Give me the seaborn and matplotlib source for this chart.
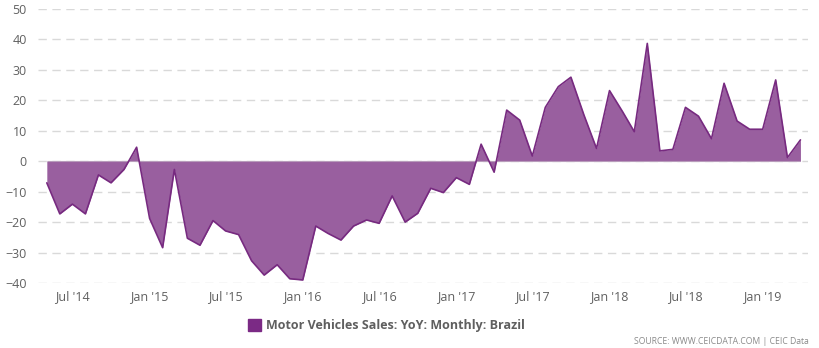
import matplotlib
matplotlib.use("Agg")
import matplotlib.pyplot as plt
import seaborn as sns
import pandas as pd

start_month = "2014-05-01"
values = [-7.1, -17.3, -14.1, -17.3, -4.5, -7.1, -2.7, 4.6,
          -18.8, -28.4, -2.7, -25.3, -27.6, -19.5, -22.9, -24.1, -32.7, -37.4, -34.0, -38.6,
          -39.0, -21.3, -23.7, -25.9, -21.3, -19.3, -20.4, -11.4, -20.0, -17.1, -8.9, -10.3,
          -5.4, -7.6, 5.6, -3.6, 16.8, 13.5, 1.7, 17.7, 24.5, 27.6, 15.2, 4.2,
          23.2, 16.3, 9.7, 38.7, 3.4, 3.9, 17.7, 14.8, 7.4, 25.6, 13.2, 10.5,
          10.5, 26.7, 1.2, 7.0]
tick_dates = ["2014-07-01", "2015-01-01", "2015-07-01", "2016-01-01", "2016-07-01",
              "2017-01-01", "2017-07-01", "2018-01-01", "2018-07-01", "2019-01-01"]
tick_labels = ["Jul '14", "Jan '15", "Jul '15", "Jan '16", "Jul '16",
               "Jan '17", "Jul '17", "Jan '18", "Jul '18", "Jan '19"]
y_ticks = [-40, -30, -20, -10, 0, 10, 20, 30, 40, 50]
series_name = "Motor Vehicles Sales: YoY: Monthly: Brazil"

dates = pd.date_range(start_month, periods=len(values), freq="MS")
df = pd.DataFrame({"date": dates, "value": values})

sns.set_style("white")
plt.rcParams["font.family"] = ["Open Sans", "DejaVu Sans"]

fig = plt.figure(figsize=(8.19, 3.48), dpi=100)
ax = fig.add_axes([38/819, 1-283/348, (808-38)/819, (283-9)/348])

for yv in y_ticks:
    ax.axhline(yv, color="#d9d9d9", lw=1, ls=(0, (6, 4)), zorder=0)

ax.fill_between(df["date"], df["value"], 0, color="#995f9f", lw=0, zorder=2)
ax.hlines(0, df["date"].iloc[0], df["date"].iloc[-1], color="#b89cbb", lw=0.8, zorder=2.5)
sns.lineplot(data=df, x="date", y="value", ax=ax, color="#772a80", lw=1.2, zorder=3)

ax.set_xlim(pd.Timestamp("2014-04-10"), pd.Timestamp("2019-04-19"))
ax.set_ylim(-40, 50)
ax.set_yticks(y_ticks)
ax.set_yticklabels([("\u2212" + str(-v)) if v < 0 else str(v) for v in y_ticks])
ax.set_xticks(pd.to_datetime(tick_dates))
ax.set_xticklabels(tick_labels)
ax.tick_params(axis="both", length=0, labelsize=9, colors="#606060")
ax.tick_params(axis="y", pad=8)
ax.tick_params(axis="x", pad=5)
ax.set_xlabel("")
ax.set_ylabel("")
for s in ax.spines.values():
    s.set_visible(False)

# legend
fig.patches.append(plt.Rectangle((248/819, 1-331/348), 13/819, 12/348,
                                 transform=fig.transFigure, color="#7b2a85"))
fig.text(266/819, 1-325.5/348, series_name, fontsize=9, fontweight="bold",
         color="#5f5f5f", va="center", ha="left")
fig.text(809/819, 1-341/348, "SOURCE: WWW.CEICDATA.COM | CEIC Data", fontsize=6.2,
         color="#8a8a8a", va="center", ha="right")

fig.savefig("out.png", dpi=100)
